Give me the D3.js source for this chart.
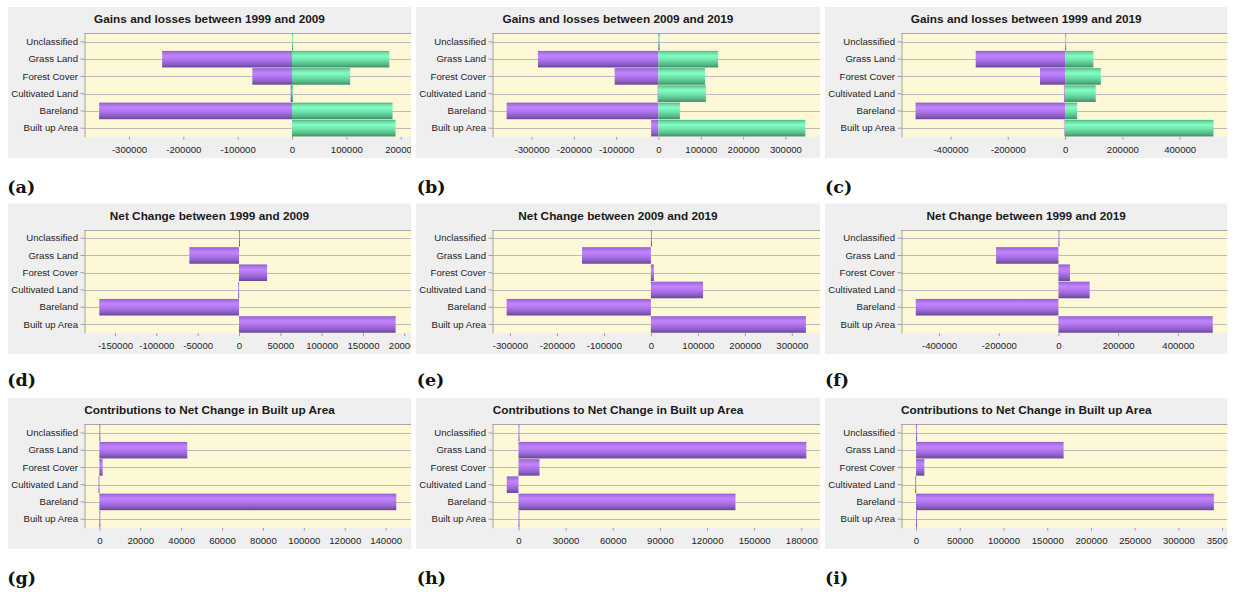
<!DOCTYPE html>
<html><head><meta charset="utf-8">
<script src="https://cdn.jsdelivr.net/npm/d3@7"></script>
<style>html,body{margin:0;padding:0;background:#fff;} svg{display:block;}</style>
</head><body><svg id="c" width="1235" height="593"></svg>
<script>
// ---------------- data ----------------
const categories = ["Unclassified", "Grass Land", "Forest Cover", "Cultivated Land", "Bareland", "Built up Area"];

const titles = [
  "Gains and losses between 1999 and 2009",
  "Gains and losses between 2009 and 2019",
  "Gains and losses between 1999 and 2019",
  "Net Change between 1999 and 2009",
  "Net Change between 2009 and 2019",
  "Net Change between 1999 and 2019",
  "Contributions to Net Change in Built up Area",
  "Contributions to Net Change in Built up Area",
  "Contributions to Net Change in Built up Area"
];
const panelLabels = ["(a)", "(b)", "(c)", "(d)", "(e)", "(f)", "(g)", "(h)", "(i)"];

const losses_1999_2009 = [0, -239000, -73000, -2500, -355000, 0];
const gains_1999_2009  = [0, 179000, 107000, 1500, 185000, 190500];
const losses_2009_2019 = [0, -285000, -103600, -2000, -359000, -17400];
const gains_2009_2019  = [0, 141000, 110000, 112000, 50600, 347000];
const losses_1999_2019 = [0, -312000, -87500, -3000, -522000, -2000];
const gains_1999_2019  = [0, 99000, 125000, 107000, 42000, 518000];

const net_1999_2009 = [0, -60000, 34000, -1000, -169000, 189500];
const net_2009_2019 = [0, -146600, 6400, 111000, -307000, 330000];
const net_1999_2019 = [0, -209000, 38600, 104600, -478000, 517000];

const contrib_1999_2009 = [0, 43000, 1600, -400, 145200, 0];
const contrib_2009_2019 = [0, 183200, 13400, -7450, 138100, 0];
const contrib_1999_2019 = [0, 168700, 9500, -1000, 340500, 0];

// x-axis extents (value at left / right edge of the visible plot) and tick values
const xDomains = [
  [-382800, 219000], [-393600, 381800], [-572800, 567000],
  [-187500, 208100], [-338200, 360000], [-527500, 566400],
  [-7500, 152400],   [-16850, 191900],  [-17200, 356100]
];
const tickSets = [
  [-300000, -200000, -100000, 0, 100000, 200000],
  [-300000, -200000, -100000, 0, 100000, 200000, 300000],
  [-400000, -200000, 0, 200000, 400000],
  [-150000, -100000, -50000, 0, 50000, 100000, 150000, 200000],
  [-300000, -200000, -100000, 0, 100000, 200000, 300000],
  [-400000, -200000, 0, 200000, 400000],
  [0, 20000, 40000, 60000, 80000, 100000, 120000, 140000],
  [0, 30000, 60000, 90000, 120000, 150000, 180000],
  [0, 50000, 100000, 150000, 200000, 250000, 300000, 350000]
];

const panelSeries = [
  [losses_1999_2009, gains_1999_2009],
  [losses_2009_2019, gains_2009_2019],
  [losses_1999_2019, gains_1999_2019],
  [net_1999_2009], [net_2009_2019], [net_1999_2019],
  [contrib_1999_2009], [contrib_2009_2019], [contrib_1999_2019]
];

// ---------------- layout & style ----------------
const colX = [8, 416, 825];
const colRight = [411, 820, 1227.5];
const rowY = [7, 203.3, 398];
const labelY = [186.5, 380, 578];
const panelH = 151;
const seriesFill = ["url(#gPurple)", "url(#gGreen)"];

const svg = d3.select("#c");
const defs = svg.append("defs");
function grad(id, stops) {
  const g = defs.append("linearGradient").attr("id", id)
    .attr("x1", 0).attr("y1", 0).attr("x2", 0).attr("y2", 1);
  stops.forEach(([o, c]) => g.append("stop").attr("offset", o).attr("stop-color", c));
}
grad("gPurple", [[0, "#8a5ec4"], [0.1, "#a571e2"], [0.3, "#c384ff"], [0.55, "#ad74ea"], [0.82, "#8a5cc4"], [1, "#6a449c"]]);
grad("gGreen",  [[0, "#4cae80"], [0.1, "#6ad9a4"], [0.3, "#84ffc2"], [0.55, "#6fe3ab"], [0.82, "#55b98a"], [1, "#3e8c66"]]);

const FONT = "'Liberation Sans', Arial, sans-serif";

panelSeries.forEach((series, i) => {
  const c = i % 3, r = Math.floor(i / 3);
  const x0 = colX[c], x1 = colRight[c], y0 = rowY[r];
  const clipId = "clip" + i;
  defs.append("clipPath").attr("id", clipId).append("rect")
    .attr("x", x0).attr("y", y0).attr("width", x1 - x0).attr("height", panelH);
  const g = svg.append("g").attr("clip-path", `url(#${clipId})`);

  g.append("rect").attr("x", x0).attr("y", y0).attr("width", x1 - x0).attr("height", panelH)
    .attr("fill", "#efefef");

  const left = x0 + 76, right = x1;
  const top = y0 + 26.3, bottom = y0 + 129.8;

  const x = d3.scaleLinear().domain(xDomains[i]).range([left, right]);
  const y = d3.scaleBand().domain(categories).range([top, bottom]).paddingInner(0.04).paddingOuter(0.02);

  g.append("rect").attr("x", left).attr("y", top).attr("width", right - left).attr("height", bottom - top)
    .attr("fill", "#fdf8d5");

  // gridlines
  g.selectAll("line.grid").data(categories).join("line").attr("class", "grid")
    .attr("x1", left).attr("x2", right)
    .attr("y1", d => Math.round(y(d) + y.bandwidth() / 2) + 0.5)
    .attr("y2", d => Math.round(y(d) + y.bandwidth() / 2) + 0.5)
    .attr("stroke", "#bcbcbc").attr("stroke-width", 1);

  // top border
  g.append("line").attr("x1", left).attr("x2", right).attr("y1", Math.round(top) + 0.5).attr("y2", Math.round(top) + 0.5)
    .attr("stroke", "#a8a8a8");

  // bars
  series.forEach((vals, k) => {
    g.selectAll(null).data(vals.map((v, j) => ({ v, cat: categories[j] }))).join("rect")
      .attr("x", d => Math.min(x(0), x(d.v)))
      .attr("width", d => Math.max(1, Math.abs(x(d.v) - x(0))))
      .attr("y", d => y(d.cat))
      .attr("height", y.bandwidth())
      .attr("fill", seriesFill[k]);
  });

  // left axis
  const ay = g.append("g").attr("transform", `translate(${Math.round(left) + 0.5},0)`)
    .call(d3.axisLeft(y).tickSize(4).tickSizeOuter(0).tickPadding(2.5));
  ay.select(".domain").attr("stroke", "#a0a0a0");
  ay.selectAll(".tick line").attr("stroke", "#a0a0a0");
  ay.selectAll("text").attr("font-family", FONT).attr("font-size", "9.6px").attr("fill", "#1e1e1e");

  // bottom axis
  const ax = g.append("g").attr("transform", `translate(0,${bottom})`)
    .call(d3.axisBottom(x).tickValues(tickSets[i]).tickFormat(d => String(d)).tickSize(3).tickSizeOuter(0).tickPadding(6));
  ax.select(".domain").remove();
  ax.selectAll(".tick line").attr("stroke", "#a0a0a0");
  ax.selectAll("text").attr("font-family", FONT).attr("font-size", "9.6px").attr("fill", "#1e1e1e");

  // title
  g.append("text").attr("x", (x0 + x1) / 2).attr("y", y0 + 12).attr("dy", "0.36em")
    .attr("text-anchor", "middle").attr("font-family", FONT).attr("font-weight", "bold")
    .attr("font-size", "11.8px").attr("fill", "#1a1a1a").text(titles[i]);

  // panel letter
  svg.append("text").attr("x", [7.3, 416.7, 825][c]).attr("y", labelY[r] + 6)
    .attr("font-family", "'DejaVu Serif', serif").attr("font-weight", "bold")
    .attr("font-size", "17.5px").attr("fill", "#111").text(panelLabels[i]);
});
</script>
</body></html>
